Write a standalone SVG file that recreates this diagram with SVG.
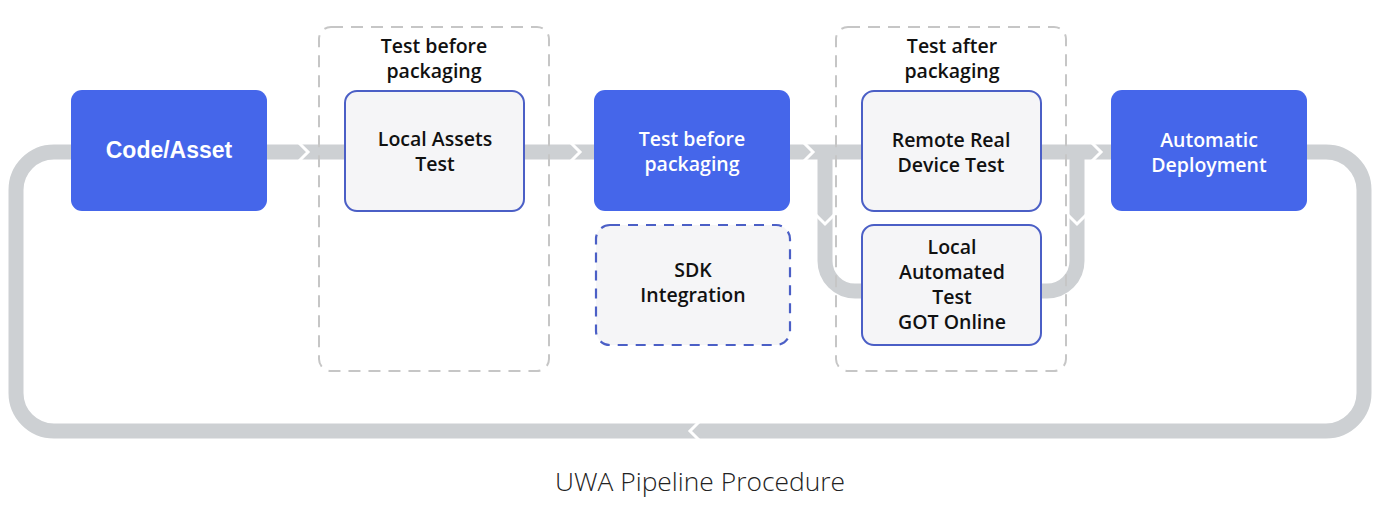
<svg xmlns="http://www.w3.org/2000/svg" width="1400" height="514" viewBox="0 0 1400 514">
<style>
.band{fill:none;stroke:#cdd0d3;stroke-width:15}
.chev{fill:none;stroke:#ffffff;stroke-width:3}
.grp{fill:none;stroke:#c6c6c6;stroke-width:2;stroke-dasharray:12 8}
.blue{fill:#4566ea}
.lite{fill:#f5f5f7;stroke:#4b5fc6;stroke-width:2}
.dash{fill:#f5f5f7;stroke:#4b5fc6;stroke-width:2.2;stroke-dasharray:10 8}
.wt{font-family:"Open Sans","Liberation Sans",Arial,sans-serif;font-weight:600;font-size:19.5px;fill:#ffffff;text-anchor:middle}
.bt{font-family:"Open Sans","Liberation Sans",Arial,sans-serif;font-weight:600;font-size:19.5px;fill:#111111;text-anchor:middle}
</style>
<rect width="1400" height="514" fill="#ffffff"/>
<g id="connectors">
<path class="band" d="M 267 152 H 1111"/>
<path class="band" d="M 1307 152 H 1326 A 38 38 0 0 1 1364 190 V 393 A 38 38 0 0 1 1326 431 H 54 A 38 38 0 0 1 16 393 V 190 A 38 38 0 0 1 54 152 H 71"/>
<path class="band" d="M 825 152 V 261 A 30 30 0 0 0 855 291 H 862"/>
<path class="band" d="M 1041 291 H 1047 A 30 30 0 0 0 1077 261 V 152"/>
<polyline class="chev" points="299,143 308,152 299,161"/>
<polyline class="chev" points="571,143 580,152 571,161"/>
<polyline class="chev" points="804,143 813,152 804,161"/>
<polyline class="chev" points="1092,143 1101,152 1092,161"/>
<polyline class="chev" points="699,422 690,431 699,440"/>
<polyline class="chev" points="816,215 825,224 834,215"/>
<polyline class="chev" points="1068,215 1077,224 1086,215"/>
</g>
<g id="group-before">
<rect class="grp" x="319" y="27" width="230" height="344" rx="12"/>
<text class="bt" x="434" y="53">Test before</text>
<text class="bt" x="434" y="78">packaging</text>
</g>
<g id="group-after">
<rect class="grp" x="836" y="27" width="230" height="344" rx="12"/>
<text class="bt" x="952" y="53">Test after</text>
<text class="bt" x="952" y="78">packaging</text>
</g>
<g id="code-asset">
<rect class="blue" x="71" y="90" width="196" height="121" rx="11"/>
<text class="wt" x="169" y="158" style="font-family:'Liberation Sans',Arial,sans-serif;font-weight:bold;font-size:23px">Code/Asset</text>
</g>
<g id="local-assets-test">
<rect class="lite" x="345" y="91" width="179" height="120" rx="12"/>
<text class="bt" x="435" y="146">Local Assets</text>
<text class="bt" x="435" y="171">Test</text>
</g>
<g id="test-before-packaging">
<rect class="blue" x="594" y="90" width="196" height="121" rx="11"/>
<text class="wt" x="692" y="146">Test before</text>
<text class="wt" x="692" y="171">packaging</text>
</g>
<g id="sdk-integration">
<rect class="dash" x="596" y="225" width="194" height="120" rx="14"/>
<text class="bt" x="693" y="277">SDK</text>
<text class="bt" x="693" y="302">Integration</text>
</g>
<g id="remote-real-device-test">
<rect class="lite" x="862" y="91" width="179" height="120" rx="12"/>
<text class="bt" x="951" y="147">Remote Real</text>
<text class="bt" x="951" y="172">Device Test</text>
</g>
<g id="local-automated-test">
<rect class="lite" x="862" y="225" width="179" height="120" rx="12"/>
<text class="bt" x="952" y="254">Local</text>
<text class="bt" x="952" y="279">Automated</text>
<text class="bt" x="952" y="304">Test</text>
<text class="bt" x="952" y="329">GOT Online</text>
</g>
<g id="automatic-deployment">
<rect class="blue" x="1111" y="90" width="196" height="121" rx="11"/>
<text class="wt" x="1209" y="147">Automatic</text>
<text class="wt" x="1209" y="172">Deployment</text>
</g>
<text x="700" y="491" text-anchor="middle" font-family="'Open Sans','Noto Sans',sans-serif" font-weight="300" font-size="26" fill="#222222" textLength="290" lengthAdjust="spacingAndGlyphs">UWA Pipeline Procedure</text>
</svg>
